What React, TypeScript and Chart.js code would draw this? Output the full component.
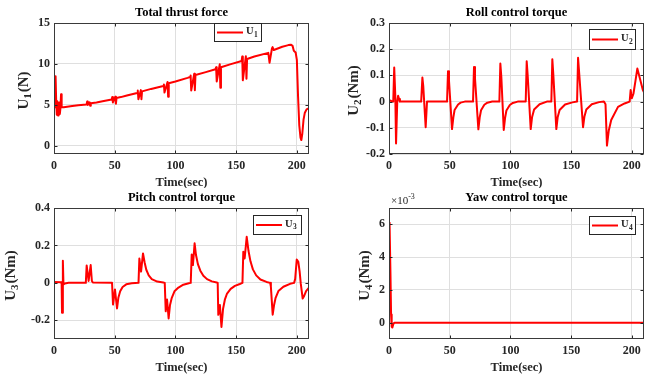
import React, { useEffect, useRef } from 'react';
import { Chart, registerables } from 'chart.js';

Chart.register(...registerables);

// ---------------- data ----------------
const xTicks = [0, 50, 100, 150, 200];

// Total thrust force U1 (N)
const t1 = [0, 0.8, 1.3, 1.8, 2.3, 2.8, 3.3, 3.8, 4.3, 4.8, 5.3, 5.8, 6.3, 8, 15, 20, 26.8, 27.3, 27.8, 29.3, 29.8, 30.3, 35, 40, 47.5, 48, 48.5, 50.5, 51, 51.5, 55, 60, 68.5, 69, 69.5, 71.5, 72, 72.5, 80, 90, 90.5, 91, 93.5, 94, 94.5, 100, 110, 112, 112.5, 113, 115.5, 116, 116.5, 125, 133, 133.5, 134, 136.5, 137, 137.5, 145, 154.5, 155, 155.5, 158, 158.5, 159, 165, 176.5, 177.5, 179.5, 180, 181, 188, 193, 195, 196.5, 197.5, 199, 200, 201, 202, 203, 203.7, 204.5, 205.5, 206.5, 208, 210];
const u1 = [4.7, 5.0, 8.5, 5.5, 3.8, 5.4, 3.7, 4.8, 5.3, 3.9, 4.6, 6.3, 4.7, 4.7, 4.85, 4.95, 5.05, 5.4, 5.0, 5.3, 4.9, 5.2, 5.3, 5.45, 5.65, 5.95, 5.3, 6.0, 5.15, 5.85, 5.95, 6.15, 6.45, 6.75, 5.7, 6.8, 5.7, 6.65, 6.95, 7.3, 7.5, 6.5, 7.8, 6.0, 7.65, 7.85, 8.3, 8.4, 8.6, 6.75, 8.8, 6.8, 8.65, 9.0, 9.35, 9.6, 7.85, 9.95, 7.1, 9.6, 9.95, 10.35, 10.9, 8.0, 10.95, 8.2, 10.6, 10.9, 11.35, 10.15, 11.9, 12.05, 11.7, 12.1, 12.3, 12.35, 12.2, 11.6, 11.4, 10.5, 6.0, 2.5, 1.0, 0.7, 1.5, 3.2, 4.0, 4.45, 4.6];
const yTicks1 = [0, 5, 10, 15];

// Roll control torque U2 (Nm)
const t2 = [0, 2, 3.5, 4.3, 5.2, 5.8, 6.8, 7.5, 8.3, 9, 26.5, 27.5, 28.2, 30.2, 31.3, 47.8, 48.6, 49.4, 51.9, 53, 54, 56.9, 59, 62.4, 69.2, 70, 70.8, 73.6, 74.7, 75.8, 78.5, 81, 85, 90.9, 91.7, 92.5, 94.5, 95.6, 96.7, 99.5, 102, 106, 112.6, 113.4, 114.2, 116.7, 117.8, 119.5, 124, 130, 133.7, 134.5, 135.3, 137.8, 138.9, 140.5, 145, 151, 154.9, 155.7, 156.6, 159.8, 160.9, 162.5, 167, 173, 177, 178.3, 179.5, 181, 183, 188.6, 194, 198.2, 199, 200, 201.3, 203, 204.5, 206, 209, 210];
const u2 = [0.005, 0.002, 0, 0.13, 0.02, -0.16, 0, 0.022, 0.01, 0, 0, 0.092, 0.06, -0.098, 0, 0, 0.116, 0.08, -0.105, -0.06, -0.032, -0.011, -0.004, 0, 0, 0.132, 0.09, -0.106, -0.06, -0.033, -0.012, -0.004, 0, 0, 0.145, 0.095, -0.108, -0.062, -0.034, -0.013, -0.005, 0, 0, 0.154, 0.1, -0.105, -0.06, -0.03, -0.01, 0, 0, 0.162, 0.105, -0.105, -0.06, -0.032, -0.011, -0.003, 0, 0.167, 0.11, -0.098, -0.058, -0.03, -0.01, -0.002, 0, -0.01, -0.168, -0.11, -0.07, -0.02, -0.007, 0, 0.044, 0.013, 0.03, 0.08, 0.126, 0.1, 0.045, 0.035];
const yTicks2 = [-0.2, -0.1, 0, 0.1, 0.2, 0.3];

// Pitch control torque U3 (Nm)
const t3 = [0, 5.8, 6.3, 6.6, 7.3, 7.8, 9, 12, 26.2, 26.9, 28.5, 30.2, 31.2, 32, 47.8, 48.6, 50.2, 51.9, 53, 54.5, 56.5, 59.5, 64, 69.6, 70.3, 71.7, 73.3, 74.6, 76, 78, 80.5, 85, 90, 91.2, 92, 93.1, 94.4, 95.5, 97, 99.2, 102.5, 106.5, 111, 112.6, 113.4, 114.4, 115.8, 116.9, 118.5, 120.5, 123, 126, 130, 134, 134.8, 135.3, 136.6, 137.9, 139.2, 140.7, 142.5, 145.5, 149, 153, 155.2, 155.9, 157, 158.7, 160.2, 161.8, 163.8, 166.5, 170, 175, 178, 178.6, 180.1, 181.2, 182.5, 184.8, 188.9, 194.4, 197.7, 198.6, 199.9, 201.2, 202.3, 203.2, 204.8, 206, 207.6, 210];
const u3 = [0.004, 0.003, -0.005, -0.16, 0.118, -0.008, -0.003, 0, 0, 0.093, 0.01, 0.095, 0.01, 0.002, 0, -0.116, -0.035, -0.137, -0.08, -0.045, -0.022, -0.008, -0.002, 0, 0.13, 0.06, 0.157, 0.11, 0.07, 0.04, 0.02, 0.007, 0.002, 0, -0.152, -0.089, -0.19, -0.12, -0.08, -0.045, -0.025, -0.01, -0.002, 0, 0.152, 0.095, 0.211, 0.15, 0.1, 0.065, 0.038, 0.02, 0.008, 0.002, 0, -0.171, -0.118, -0.236, -0.14, -0.09, -0.057, -0.032, -0.016, -0.006, 0, 0.166, 0.13, 0.246, 0.17, 0.115, 0.072, 0.04, 0.018, 0.005, 0, -0.02, -0.17, -0.12, -0.08, -0.044, -0.021, -0.005, 0, 0.02, 0.125, 0.112, 0.06, -0.003, -0.084, -0.07, -0.044, -0.025];
const yTicks3 = [-0.2, 0, 0.2, 0.4];

// Yaw control torque U4 (x 10^-3 Nm)
const t4 = [0, 0.3, 0.7, 1.2, 1.7, 2.2, 2.8, 3.5, 4.5, 10, 50, 100, 150, 210];
const u4 = [3.8, 6.1, 5.9, 3.0, 0.5, -0.25, -0.3, -0.1, 0, 0, 0, 0, 0, 0];
const yTicks4 = [0, 2, 4, 6];

const titles = ['Total thrust force', 'Roll control torque', 'Pitch control torque', 'Yaw control torque'];
const xLabel = 'Time(sec)';
const yUnits = ['(N)', '(Nm)', '(Nm)', '(Nm)'];
const subs = ['1', '2', '3', '4'];

// ---------------- style ----------------
const FONT = '"Liberation Serif", "Times New Roman", Times, serif';
const INK = '#262626';
const GRID = '#dfdfdf';
const RED = '#ff0000';

type Panel = {
  title: string; t: number[]; u: number[]; yMin: number; yMax: number; yTicks: number[];
  unit: string; sub: string; x: number; y: number; w: number; h: number;
  area: { l: number; t: number; r: number; b: number };
  yLabelX: number; legend: { x: number; y: number; w: number; h: number }; exponent?: boolean;
};

const panels: Panel[] = [
  { title: titles[0], t: t1, u: u1, yMin: -1, yMax: 15, yTicks: yTicks1, unit: yUnits[0], sub: subs[0],
    x: 0, y: 0, w: 327, h: 188, area: { l: 54, t: 23, r: 309, b: 154 }, yLabelX: 24,
    legend: { x: 214, y: 23, w: 48, h: 19 } },
  { title: titles[1], t: t2, u: u2, yMin: -0.2, yMax: 0.3, yTicks: yTicks2, unit: yUnits[1], sub: subs[1],
    x: 327, y: 0, w: 327, h: 188, area: { l: 62, t: 23, r: 317, b: 154 }, yLabelX: 27,
    legend: { x: 262, y: 29, w: 47, h: 21 } },
  { title: titles[2], t: t3, u: u3, yMin: -0.3, yMax: 0.4, yTicks: yTicks3, unit: yUnits[2], sub: subs[2],
    x: 0, y: 188, w: 327, h: 189, area: { l: 54, t: 20, r: 309, b: 151 }, yLabelX: 11,
    legend: { x: 253, y: 27, w: 49, h: 20 } },
  { title: titles[3], t: t4, u: u4, yMin: -1, yMax: 7, yTicks: yTicks4, unit: yUnits[3], sub: subs[3],
    x: 327, y: 188, w: 327, h: 189, area: { l: 62, t: 20, r: 317, b: 151 }, yLabelX: 38,
    legend: { x: 262, y: 28, w: 47, h: 19 }, exponent: true },
];

function makeDecor(p: Panel) {
  return {
    id: 'matlabDecor',
    afterDraw(chart: any) {
      const ctx: CanvasRenderingContext2D = chart.ctx;
      const a = chart.chartArea;
      const xs = chart.scales.x;
      const ys = chart.scales.y;
      ctx.save();
      const L = Math.round(a.left) + 0.5, R = Math.round(a.right) - 0.5;
      const T = Math.round(a.top) + 0.5, B = Math.round(a.bottom) - 0.5;
      // tick marks (inward, all sides)
      ctx.strokeStyle = INK;
      ctx.lineWidth = 1;
      ctx.beginPath();
      xTicks.forEach((v) => {
        const px = Math.round(xs.getPixelForValue(v)) + 0.5;
        ctx.moveTo(px, B); ctx.lineTo(px, B - 3);
        ctx.moveTo(px, T); ctx.lineTo(px, T + 3);
      });
      p.yTicks.forEach((v) => {
        const py = Math.round(ys.getPixelForValue(v)) + 0.5;
        ctx.moveTo(L, py); ctx.lineTo(L + 3, py);
        ctx.moveTo(R, py); ctx.lineTo(R - 3, py);
      });
      ctx.stroke();
      // box
      ctx.strokeStyle = '#3a3a3a';
      ctx.strokeRect(L, T, R - L, B - T);

      const cx = (a.left + a.right) / 2;
      ctx.fillStyle = '#000';
      // title
      ctx.font = `bold 12.5px ${FONT}`;
      ctx.textAlign = 'center';
      ctx.textBaseline = 'middle';
      ctx.fillText(p.title, cx, a.top - 10);
      // x label
      ctx.fillStyle = INK;
      ctx.fillText(xLabel, cx, a.bottom + 28.5);

      // y label (rotated, with subscript)
      const bigF = `bold 15px ${FONT}`;
      const subF = `bold 11px ${FONT}`;
      ctx.font = bigF; const wU = ctx.measureText('U').width; const wUnit = ctx.measureText(p.unit).width;
      ctx.font = subF; const wS = ctx.measureText(p.sub).width;
      const total = wU + wS + 1 + wUnit;
      ctx.save();
      ctx.translate(p.yLabelX, (a.top + a.bottom) / 2 + 2);
      ctx.rotate(-Math.PI / 2);
      ctx.textAlign = 'left';
      ctx.textBaseline = 'middle';
      let xx = -total / 2;
      ctx.font = bigF; ctx.fillText('U', xx, 0); xx += wU;
      ctx.font = subF; ctx.fillText(p.sub, xx, 4.5); xx += wS + 1;
      ctx.font = bigF; ctx.fillText(p.unit, xx, 0);
      ctx.restore();

      // legend
      const lg = p.legend;
      ctx.fillStyle = '#ffffff';
      ctx.fillRect(lg.x, lg.y, lg.w, lg.h);
      ctx.strokeStyle = INK;
      ctx.lineWidth = 1;
      ctx.strokeRect(lg.x + 0.5, lg.y + 0.5, lg.w - 1, lg.h - 1);
      const my = lg.y + lg.h / 2;
      ctx.strokeStyle = RED;
      ctx.lineWidth = 2;
      ctx.beginPath();
      ctx.moveTo(lg.x + 3, my); ctx.lineTo(lg.x + 29, my);
      ctx.stroke();
      ctx.fillStyle = INK;
      ctx.textAlign = 'left';
      ctx.textBaseline = 'middle';
      ctx.font = `bold 10.5px ${FONT}`;
      ctx.fillText('U', lg.x + 32, my - 1);
      const wl = ctx.measureText('U').width;
      ctx.font = `bold 7.5px ${FONT}`;
      ctx.fillText(p.sub, lg.x + 32 + wl + 0.5, my + 2.5);

      // exponent
      if (p.exponent) {
        ctx.fillStyle = INK;
        ctx.font = `11px ${FONT}`;
        ctx.textAlign = 'left';
        ctx.textBaseline = 'middle';
        ctx.fillText('\u00d710', a.left + 2, a.top - 7);
        const we = ctx.measureText('\u00d710').width;
        ctx.font = `8px ${FONT}`;
        ctx.fillText('-3', a.left + 2 + we, a.top - 11);
      }
      ctx.restore();
    },
  };
}

function PanelChart({ p }: { p: Panel }) {
  const ref = useRef<HTMLCanvasElement>(null);
  useEffect(() => {
    const c = ref.current as HTMLCanvasElement;
    const tickFont = { family: FONT, size: 12, weight: 'bold' as const };
    const chart = new Chart(c, {
      type: 'line',
      data: {
        datasets: [{
          data: p.t.map((x, i) => ({ x, y: p.u[i] })),
          borderColor: RED,
          borderWidth: 2,
          pointRadius: 0,
          tension: 0,
          fill: false,
          borderJoinStyle: 'round',
        }],
      },
      options: {
        responsive: false,
        animation: false,
        devicePixelRatio: 1,
        events: [],
        layout: { padding: { left: 0, top: p.area.t, right: p.w - p.area.r, bottom: 0 } },
        plugins: { legend: { display: false }, title: { display: false }, tooltip: { enabled: false } },
        scales: {
          x: {
            type: 'linear', min: 0, max: 210,
            afterBuildTicks: (s: any) => { s.ticks = xTicks.map((v) => ({ value: v })); },
            afterFit: (s: any) => { s.height = p.h - p.area.b; },
            grid: { color: GRID, drawTicks: false, lineWidth: 1 },
            border: { display: false },
            ticks: { padding: 5, color: INK, font: tickFont, maxRotation: 0, autoSkip: false },
          },
          y: {
            type: 'linear', min: p.yMin, max: p.yMax,
            afterBuildTicks: (s: any) => { s.ticks = p.yTicks.map((v) => ({ value: v })); },
            afterFit: (s: any) => { s.width = p.area.l; },
            grid: { color: GRID, drawTicks: false, lineWidth: 1 },
            border: { display: false },
            ticks: { padding: 4, color: INK, font: tickFont, autoSkip: false, callback: (v: any) => String(v) },
          },
        },
      } as any,
      plugins: [makeDecor(p)],
    });
    return () => chart.destroy();
  }, [p]);
  return (
    <canvas
      ref={ref}
      width={p.w}
      height={p.h}
      style={{ position: 'absolute', left: p.x, top: p.y, width: p.w, height: p.h }}
    />
  );
}

export default function App() {
  return (
    <div style={{ position: 'fixed', left: 0, top: 0, width: 654, height: 377, background: '#fff', overflow: 'hidden' }}>
      {panels.map((p, i) => <PanelChart key={i} p={p} />)}
    </div>
  );
}
